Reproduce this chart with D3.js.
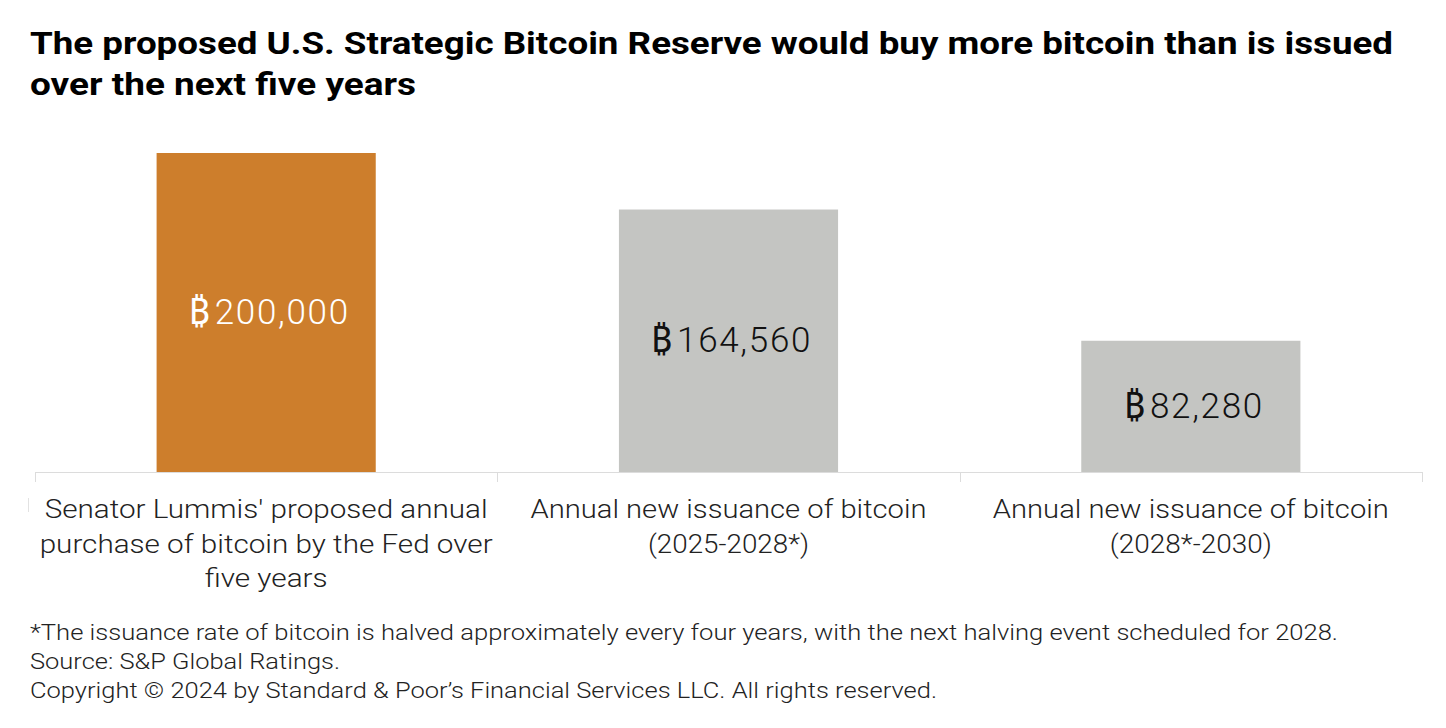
<!DOCTYPE html>
<html><head><meta charset="utf-8">
<script src="https://cdn.jsdelivr.net/npm/d3@7"></script>
<style>body{margin:0;background:#fff}svg{display:block}</style>
</head><body>
<svg id="c" width="1446" height="728"></svg>
<script>
const categories = [
  ["Senator Lummis' proposed annual", "purchase of bitcoin by the Fed over", "five years"],
  ["Annual new issuance of bitcoin", "(2025-2028*)"],
  ["Annual new issuance of bitcoin", "(2028*-2030)"]
];
const values = [200000, 164560, 82280];
const valueLabels = ["200,000", "164,560", "82,280"];
const currencySymbol = "\u20BF";
const barColors = ["#CD7E2C", "#C4C5C2", "#C4C5C2"];
const labelColors = ["#ffffff", "#111111", "#111111"];
const titleLines = ["The proposed U.S. Strategic Bitcoin Reserve would buy more bitcoin than is issued", "over the next five years"];
const notes = ["*The issuance rate of bitcoin is halved approximately every four years, with the next halving event scheduled for 2028.",
  "Source: S&P Global Ratings.",
  "Copyright \u00A9 2024 by Standard & Poor\u2019s Financial Services LLC. All rights reserved."];

const svg = d3.select("#c");
const idx = d3.range(values.length);
const x = d3.scaleBand().domain(idx).range([35, 1422]).paddingInner(0.526).paddingOuter(0.263);
const y = d3.scaleLinear().domain([0, 200000]).range([472, 153]);

// title
svg.append("g").selectAll("text").data(titleLines).join("text")
  .attr("x", 30).attr("y", (d,i)=>54 + i*41)
  .attr("font-family", "Roboto, 'Liberation Sans', sans-serif").attr("font-weight", 700)
  .attr("font-size", 32).attr("fill", "#000")
  .attr("textLength", (d,i)=> i===0 ? 1363 : 386).attr("lengthAdjust", "spacingAndGlyphs")
  .text(d=>d);

// bars
svg.append("g").selectAll("rect").data(idx).join("rect")
  .attr("x", i=>x(i)).attr("width", x.bandwidth())
  .attr("y", i=>y(values[i])).attr("height", i=>y(0)-y(values[i]))
  .attr("fill", i=>barColors[i]);

// axis
const step = x.step();
const axis = svg.append("g").attr("transform", "translate(0,472)");
axis.append("line").attr("x1", 35).attr("x2", 1422).attr("y1", 0.5).attr("y2", 0.5).attr("stroke", "#dcdcdc");
const bounds = [0,1,2].map(i=>x(i) - step*0.263).concat([1422]);
axis.selectAll("line.t").data(bounds).join("line").attr("class","t")
  .attr("x1", d=>Math.round(d)+0.5).attr("x2", d=>Math.round(d)+0.5).attr("y1", 0).attr("y2", 10)
  .attr("stroke", "#dcdcdc");
svg.append("line").attr("x1", 28.5).attr("x2", 28.5).attr("y1", 498).attr("y2", 512).attr("stroke", "#e2e2e2");

// value labels
const vl = svg.append("g").selectAll("text").data(idx).join("text")
  .attr("x", i=>x(i)+x.bandwidth()/2 + 3)
  .attr("y", i=>(y(values[i])+y(0))/2 + 11.5)
  .attr("text-anchor", "middle")
  .attr("font-family", "Roboto, 'Noto Sans', sans-serif").attr("font-weight", 300).attr("font-size", 35)
  .attr("fill", i=>labelColors[i]);
vl.append("tspan").attr("font-family", "'Noto Sans', 'DejaVu Sans', sans-serif").attr("font-weight", 400)
  .attr("font-size", 37).text(currencySymbol);
vl.append("tspan").attr("dx", 5).attr("letter-spacing", 1.7).text(i=>valueLabels[i]);

// category labels
const catW = [[443, 453, 123], [396, 161], [396, 162]];
const lines = idx.flatMap(i=>categories[i].map((t,j)=>({i, j, t, w: catW[i][j]})));
svg.append("g").selectAll("text").data(lines).join("text")
  .attr("x", d=>x(d.i)+x.bandwidth()/2).attr("y", d=>518 + d.j*34.5)
  .attr("text-anchor", "middle")
  .attr("font-family", "Roboto, 'Liberation Sans', sans-serif").attr("font-weight", 300)
  .attr("font-size", 26).attr("fill", "#222")
  .attr("textLength", d=>d.w).attr("lengthAdjust", "spacingAndGlyphs")
  .text(d=>d.t);

// notes
const nLen = [1308, 310, 907];
svg.append("g").selectAll("text").data(notes).join("text")
  .attr("x", 30).attr("y", (d,i)=>640 + i*29)
  .attr("font-family", "Roboto, 'Liberation Sans', sans-serif").attr("font-weight", 300)
  .attr("font-size", 22).attr("fill", "#222")
  .attr("textLength", (d,i)=>nLen[i]).attr("lengthAdjust", "spacingAndGlyphs")
  .text(d=>d);
</script>
</body></html>
